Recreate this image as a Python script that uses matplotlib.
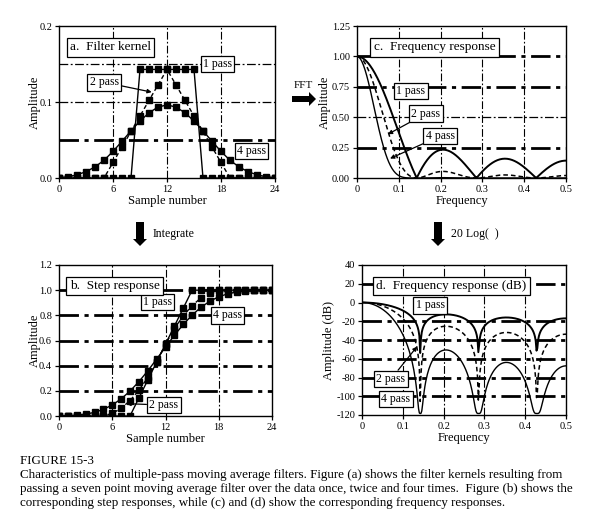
"""Multiple-pass moving average filters: kernel, step and frequency responses."""

import matplotlib

matplotlib.use("Agg")
import matplotlib.pyplot as plt
import numpy as np
from matplotlib.patches import Polygon

plt.rcParams["font.family"] = ["Liberation Serif", "DejaVu Serif"]
plt.rcParams["axes.unicode_minus"] = False

W, H = 600, 532

# filter kernels of panel (a), sample 0..24, as point counts (normalised to unit sum)
samples = list(range(25))
counts_1 = [0, 0, 0, 0, 0, 0, 0, 0, 0,
            1, 1, 1, 1, 1, 1, 1,
            0, 0, 0, 0, 0, 0, 0, 0, 0]
counts_2 = [0, 0, 0, 0, 0, 0,
            1, 2, 3, 4, 5, 6, 7, 6, 5, 4, 3, 2, 1,
            0, 0, 0, 0, 0, 0]
counts_4 = [1, 4, 10, 20, 35, 56, 84, 116, 149, 180, 206, 224, 231,
            224, 206, 180, 149, 116, 84, 56, 35, 20, 10, 4, 1]
kernels = {
    "1 pass": np.array(counts_1) / sum(counts_1),
    "2 pass": np.array(counts_2) / sum(counts_2),
    "4 pass": np.array(counts_4) / sum(counts_4),
}

FFT_SIZE = 512
NOISE_FLOOR = 1.2e-6

CAPTION_TITLE = "FIGURE 15-3"
CAPTION_LINES = [
    "Characteristics of multiple-pass moving average filters. Figure (a) shows the filter kernels resulting from",
    "passing a seven point moving average filter over the data once, twice and four times.  Figure (b) shows the",
    "corresponding step responses, while (c) and (d) show the corresponding frequency responses.",
]

styles = {
    "1 pass": dict(color="black", linestyle="-", lw=1.0),
    "2 pass": dict(color="black", linestyle=(0, (3, 2)), lw=1.0),
    "4 pass": dict(color="black", linestyle="-", lw=1.0),
}
freq_lw = {"1 pass": 1.4, "2 pass": 1.1, "4 pass": 1.0}

DASHDOT = (0, (7, 2, 1.5, 2))
BOX = dict(boxstyle="square,pad=0.2", fc="white", ec="black", lw=0.9)
LABEL_SIZE = 9
TICK_SIZE = 7.5


def rect(left, top, right, bottom):
    return [left / W, 1 - bottom / H, (right - left) / W, (bottom - top) / H]


def style_axes(ax):
    for sp in ax.spines.values():
        sp.set_linewidth(1.0)
    ax.tick_params(direction="out", length=3, width=0.9, labelsize=TICK_SIZE, pad=2)


def hgrid(ax, levels, thick):
    for lev, th in zip(levels, thick):
        ax.axhline(lev, color="black", lw=2.0 if th else 0.9, linestyle=DASHDOT, zorder=1)


def vgrid(ax, levels):
    for lev in levels:
        ax.axvline(lev, color="black", lw=0.8, linestyle=DASHDOT, zorder=1)


def label_box(ax, text, x, y, size=8.5):
    ax.text(x, y, text, ha="center", va="center", fontsize=size, bbox=BOX, zorder=6)


def arrow_label(ax, text, x, y, tx, ty, size=8.5):
    ax.annotate(text, xy=(tx, ty), xytext=(x, y), ha="center", va="center",
                fontsize=size, bbox=BOX, zorder=6,
                arrowprops=dict(arrowstyle="-|>", color="black", lw=0.9,
                                mutation_scale=6, shrinkA=0, shrinkB=0))


def title_box(ax, text, x, y):
    ax.text(x, y, text, transform=ax.transAxes, ha="left", va="center",
            fontsize=9.5, bbox=dict(boxstyle="square,pad=0.25", fc="white", ec="black", lw=0.9),
            zorder=7)


def pix_poly(fig, pts):
    fig.patches.append(Polygon([(x / W, 1 - y / H) for x, y in pts], closed=True,
                               transform=fig.transFigure, fc="black", ec="black", lw=0))


fig = plt.figure(figsize=(6.0, 5.32), dpi=100)

# (a) filter kernel
ax_a = fig.add_axes(rect(59, 26, 275, 178))
hgrid(ax_a, [0.05, 0.1, 0.15], [True, False, False])
vgrid(ax_a, [6, 12, 18])
for name, k in kernels.items():
    ax_a.plot(samples, k, marker="s", ms=4.2, mfc="black", mec="black", zorder=4, **styles[name])
ax_a.set_xlim(0, 24)
ax_a.set_ylim(0, 0.2)
ax_a.set_xticks([0, 6, 12, 18, 24])
ax_a.set_yticks([0.0, 0.1, 0.2])
ax_a.set_yticklabels(["0.0", "0.1", "0.2"])
ax_a.set_xlabel("Sample number", fontsize=LABEL_SIZE, labelpad=1)
ax_a.set_ylabel("Amplitude", fontsize=LABEL_SIZE, labelpad=-1)
style_axes(ax_a)
title_box(ax_a, "a.  Filter kernel", 0.05, 0.86)
label_box(ax_a, "1 pass", 17.6, 0.150)
arrow_label(ax_a, "2 pass", 5.0, 0.126, 10.3, 0.113)
label_box(ax_a, "4 pass", 21.4, 0.0355)

# (b) step response = running sum of the kernels
ax_b = fig.add_axes(rect(59, 265, 272, 416))
hgrid(ax_b, [0.2, 0.4, 0.6, 0.8, 1.0], [True] * 5)
vgrid(ax_b, [6, 12, 18])
for name, k in kernels.items():
    ax_b.plot(samples, np.cumsum(k), marker="s", ms=4.2, mfc="black", mec="black", zorder=4,
              **styles[name])
ax_b.set_xlim(0, 24)
ax_b.set_ylim(0, 1.2)
ax_b.set_xticks([0, 6, 12, 18, 24])
ax_b.set_yticks([0.0, 0.2, 0.4, 0.6, 0.8, 1.0, 1.2])
ax_b.set_yticklabels(["0.0", "0.2", "0.4", "0.6", "0.8", "1.0", "1.2"])
ax_b.set_xlabel("Sample number", fontsize=LABEL_SIZE, labelpad=1)
ax_b.set_ylabel("Amplitude", fontsize=LABEL_SIZE, labelpad=-1)
style_axes(ax_b)
title_box(ax_b, "b.  Step response", 0.05, 0.86)
label_box(ax_b, "1 pass", 11.1, 0.906)
label_box(ax_b, "4 pass", 19.0, 0.80)
arrow_label(ax_b, "2 pass", 11.8, 0.087, 7.6, 0.098)

# frequency responses of the same kernels
freq = np.fft.rfftfreq(FFT_SIZE)
mags = {name: np.abs(np.fft.rfft(k, n=FFT_SIZE)) for name, k in kernels.items()}

# (c) frequency response
ax_c = fig.add_axes(rect(357, 26, 566, 178))
hgrid(ax_c, [0.25, 0.5, 0.75, 1.0], [True, False, True, True])
vgrid(ax_c, [0.1, 0.2, 0.3, 0.4])
for name, m in mags.items():
    st = dict(styles[name])
    st["lw"] = freq_lw[name]
    ax_c.plot(freq, m, zorder=4, **st)
ax_c.set_xlim(0, 0.5)
ax_c.set_ylim(0, 1.25)
ax_c.set_xticks([0, 0.1, 0.2, 0.3, 0.4, 0.5])
ax_c.set_xticklabels(["0", "0.1", "0.2", "0.3", "0.4", "0.5"])
ax_c.set_yticks([0, 0.25, 0.5, 0.75, 1.0, 1.25])
ax_c.set_yticklabels(["0.00", "0.25", "0.50", "0.75", "1.00", "1.25"])
ax_c.set_xlabel("Frequency", fontsize=LABEL_SIZE, labelpad=1)
ax_c.set_ylabel("Amplitude", fontsize=LABEL_SIZE, labelpad=1)
style_axes(ax_c)
title_box(ax_c, "c.  Frequency response", 0.08, 0.86)
label_box(ax_c, "1 pass", 0.129, 0.715)
arrow_label(ax_c, "2 pass", 0.165, 0.53, 0.074, 0.36)
arrow_label(ax_c, "4 pass", 0.199, 0.345, 0.079, 0.16)

# (d) frequency response in dB
ax_d = fig.add_axes(rect(362, 265, 566, 415))
hgrid(ax_d, [-100, -80, -60, -40, -20, 20], [True] * 6)
vgrid(ax_d, [0.1, 0.2, 0.3, 0.4])
for name, m in mags.items():
    st = dict(styles[name])
    st["lw"] = freq_lw[name]
    ax_d.plot(freq, 20 * np.log10(m + NOISE_FLOOR), zorder=4, **st)
ax_d.set_xlim(0, 0.5)
ax_d.set_ylim(-120, 40)
ax_d.set_xticks([0, 0.1, 0.2, 0.3, 0.4, 0.5])
ax_d.set_xticklabels(["0", "0.1", "0.2", "0.3", "0.4", "0.5"])
ax_d.set_yticks(list(range(-120, 41, 20)))
ax_d.set_xlabel("Frequency", fontsize=LABEL_SIZE, labelpad=1)
ax_d.set_ylabel("Amplitude (dB)", fontsize=LABEL_SIZE, labelpad=1)
style_axes(ax_d)
title_box(ax_d, "d.  Frequency response (dB)", 0.07, 0.86)
label_box(ax_d, "1 pass", 0.167, -3)
arrow_label(ax_d, "2 pass", 0.071, -81.6, 0.135, -47)
label_box(ax_d, "4 pass", 0.083, -103)

# arrows between panels
pix_poly(fig, [(292, 96), (309, 96), (309, 92), (316, 99), (309, 106), (309, 102), (292, 102)])
fig.text(303 / W, 1 - 86 / H, "FFT", ha="center", va="center", fontsize=8)
for cx, label in [(140, "Integrate"), (438, "20 Log(  )")]:
    pix_poly(fig, [(cx - 4, 222), (cx + 4, 222), (cx + 4, 239), (cx + 7, 239),
                   (cx, 246), (cx - 7, 239), (cx - 4, 239)])
    fig.text((cx + 13) / W, 1 - 234 / H, label, ha="left", va="center", fontsize=8.5)

# caption
fig.text(20 / W, 1 - 461 / H, CAPTION_TITLE, ha="left", va="center", fontsize=9.4)
for i, line in enumerate(CAPTION_LINES):
    fig.text(20 / W, 1 - (475 + 14 * i) / H, line, ha="left", va="center", fontsize=9.4)

fig.savefig("out.png", dpi=100)
